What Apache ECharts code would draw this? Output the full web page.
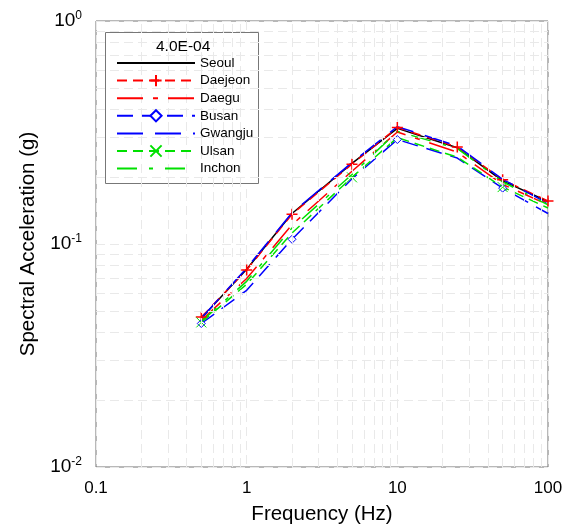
<!DOCTYPE html>
<html><head><meta charset="utf-8">
<script src="https://cdn.jsdelivr.net/npm/echarts@6/dist/echarts.min.js"></script>
<style>html,body{margin:0;padding:0;background:#fff}#c{width:575px;height:530px}</style>
</head><body><div id="c"></div>
<script>
const freqs = [0.5, 1, 2, 5, 10, 25, 50, 100];
const seoul   = [0.0465, 0.077, 0.137, 0.230, 0.330, 0.270, 0.192, 0.155];
const daejeon = [0.047, 0.0765, 0.136, 0.228, 0.333, 0.272, 0.194, 0.156];
const daegu   = [0.0455, 0.070, 0.122, 0.212, 0.318, 0.258, 0.185, 0.150];
const busan   = [0.044, 0.062, 0.105, 0.196, 0.294, 0.243, 0.178, 0.137];
const gwangju = [0.0465, 0.078, 0.138, 0.232, 0.336, 0.275, 0.195, 0.152];
const ulsan   = [0.0445, 0.066, 0.112, 0.199, 0.300, 0.245, 0.180, 0.145];
const inchon  = [0.045, 0.068, 0.118, 0.205, 0.320, 0.268, 0.190, 0.150];
const seriesNames = ['Seoul','Daejeon','Daegu','Busan','Gwangju','Ulsan','Inchon'];
const noMarkerSeries = ['Seoul','Daegu','Gwangju','Inchon'];
const legendTitle = '4.0E-04';
const xTicks = ['0.1','1','10','100'];
const busanMarkerIdx = [0, 2, 4, 6];
const ulsanMarkerIdx = [0, 3, 6];

const gridX = [], gridY = [];
[0.1, 1, 10].forEach(d => { for (let k = 2; k <= 9; k++) gridX.push(+(d * k).toPrecision(3)); });
[0.01, 0.1].forEach(d => { for (let k = 2; k <= 9; k++) gridY.push(+(d * k).toPrecision(3)); });

function pts(vals, markIdx) {
  return freqs.map((f, i) => {
    const p = { value: [f, vals[i]] };
    if (markIdx && markIdx.indexOf(i) < 0) p.symbolSize = 0;
    return p;
  });
}
const RED = '#ff0000', BLUE = '#0000ff', GREEN = '#00e000';
const plus = 'path://M5,0L5,10M0,5L10,5';
const cross = 'path://M0,0L10,10M10,0L0,10';
const diamond = 'path://M5,0L10,5L5,10L0,5Z';
const gridStyle = { color: '#e9e9e9', width: 1, type: [9, 5] };

const chart = echarts.init(document.getElementById('c'));
chart.setOption({
  animation: false,
  textStyle: { fontFamily: 'Liberation Sans, Arial, sans-serif' },
  grid: { left: 96, right: 27, top: 21, bottom: 58, show: true, borderColor: '#707070', borderWidth: 1 },
  xAxis: {
    type: 'log', min: 0.1, max: 100, logBase: 10,
    name: 'Frequency (Hz)', nameLocation: 'middle', nameGap: 37,
    nameTextStyle: { fontSize: 20.5, color: '#000' },
    axisLine: { show: false }, axisTick: { show: false },
    axisLabel: { fontSize: 17, color: '#000', margin: 13, formatter: v => xTicks[Math.round(Math.log10(v)) + 1] },
    splitLine: { show: true, lineStyle: gridStyle }
  },
  yAxis: {
    type: 'log', min: 0.01, max: 1, logBase: 10,
    name: 'Spectral Acceleration (g)', nameLocation: 'middle', nameGap: 55,
    nameTextStyle: { fontSize: 20.5, color: '#000' },
    axisLine: { show: false }, axisTick: { show: false },
    axisLabel: {
      margin: 14,
      formatter: v => '{b|10}{s|' + Math.round(Math.log10(v)) + '}',
      rich: {
        b: { fontSize: 19, color: '#000', fontFamily: 'Liberation Sans' },
        s: { fontSize: 12, color: '#000', fontFamily: 'Liberation Sans', verticalAlign: 'top', padding: [0, 0, 10, 0] }
      }
    },
    splitLine: { show: true, lineStyle: gridStyle }
  },
  graphic: [
    { type: 'rect', left: 105, top: 32, shape: { width: 153, height: 151 }, style: { fill: '#fff', stroke: '#777', lineWidth: 1 }, z: 5 },
    { type: 'text', left: 156, top: 39, style: { text: legendTitle, fontSize: 15.5, fill: '#000', fontFamily: 'Liberation Sans' }, z: 6 }
  ],
  legend: {
    orient: 'vertical', left: 116, top: 56, z: 7, padding: 0,
    itemWidth: 78, itemHeight: 14, itemGap: 3.6,
    data: seriesNames.map(n => noMarkerSeries.indexOf(n) >= 0
      ? { name: n, itemStyle: { color: 'rgba(0,0,0,0)', borderColor: 'rgba(0,0,0,0)', borderWidth: 0 } }
      : { name: n }),
    textStyle: { fontSize: 13.5, color: '#000', padding: [0, 0, 0, 0] }
  },
  series: [
    { type: 'line', name: '_grid', data: [], silent: true, z: 1,
      markLine: { silent: true, symbol: 'none', label: { show: false }, lineStyle: gridStyle, animation: false,
        data: gridX.map(v => ({ xAxis: v })).concat(gridY.map(v => ({ yAxis: v }))) } },
    { type: 'line', name: 'Seoul', data: pts(seoul), symbol: 'none', z: 3,
      lineStyle: { color: '#000', width: 1.5, type: 'solid' }, itemStyle: { color: '#000' } },
    { type: 'line', name: 'Daejeon', data: pts(daejeon), symbol: plus, symbolSize: 11, z: 3,
      lineStyle: { color: RED, width: 1.5, type: [10, 6] }, itemStyle: { color: RED, borderColor: RED, borderWidth: 1.5 } },
    { type: 'line', name: 'Daegu', data: pts(daegu), symbol: 'none', z: 3,
      lineStyle: { color: RED, width: 1.5, type: [26, 10, 5, 10] }, itemStyle: { color: RED } },
    { type: 'line', name: 'Busan', data: pts(busan, busanMarkerIdx), symbol: diamond, symbolSize: 8, z: 3,
      lineStyle: { color: BLUE, width: 1.5, type: [16, 9] }, itemStyle: { color: '#fff', borderColor: BLUE, borderWidth: 1 } },
    { type: 'line', name: 'Gwangju', data: pts(gwangju), symbol: 'none', z: 3,
      lineStyle: { color: BLUE, width: 1.5, type: [26, 12] }, itemStyle: { color: BLUE } },
    { type: 'line', name: 'Ulsan', data: pts(ulsan, ulsanMarkerIdx), symbol: cross, symbolSize: 10, z: 3,
      lineStyle: { color: GREEN, width: 1.5, type: [10, 6] }, itemStyle: { color: GREEN, borderColor: GREEN, borderWidth: 1 } },
    { type: 'line', name: 'Inchon', data: pts(inchon), symbol: 'none', z: 3,
      lineStyle: { color: GREEN, width: 1.5, type: [20, 12, 4, 12] }, itemStyle: { color: GREEN } }
  ]
});
</script></body></html>
